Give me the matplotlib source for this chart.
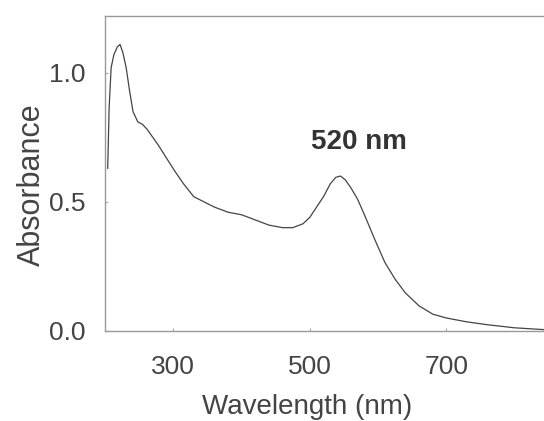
import numpy as np
import matplotlib
matplotlib.use('Agg')
import matplotlib.pyplot as plt

plt.rcParams['font.family'] = ['Liberation Sans', 'DejaVu Sans']

# spectrum
wl = [204, 206, 209, 213, 218, 222, 226, 231, 236, 241, 248, 255, 262, 270,
      278, 290, 302, 315, 330, 345, 360, 380, 400, 420, 440, 460, 475, 490,
      500, 510, 520, 530, 538, 545, 552, 560, 570, 580, 595, 610, 625, 640,
      660, 680, 700, 730, 760, 800, 843]
absorb = [0.63, 0.86, 1.02, 1.07, 1.10, 1.11, 1.08, 1.02, 0.93, 0.85, 0.81,
          0.80, 0.78, 0.75, 0.72, 0.67, 0.62, 0.57, 0.52, 0.50, 0.48, 0.46,
          0.45, 0.43, 0.41, 0.40, 0.40, 0.415, 0.44, 0.48, 0.52, 0.57,
          0.595, 0.60, 0.585, 0.555, 0.51, 0.45, 0.355, 0.265, 0.20, 0.147,
          0.097, 0.065, 0.05, 0.035, 0.024, 0.012, 0.005]
xticks = [300, 500, 700]
yticks = [0.0, 0.5, 1.0]
peak_label = '520 nm'

fig = plt.figure(figsize=(5.44, 4.21), dpi=100)
ax = fig.add_axes([0.193, 0.214, 0.807, 0.748])

ax.plot(wl, absorb, color='#444444', lw=0.9)
ax.text(502, 0.73, peak_label, fontsize=20, fontweight='bold',
        color='#333333', ha='left', va='center')

ax.set_xlim(200, 843)
ax.set_ylim(0, 1.22)
ax.set_xticks(xticks)
ax.set_yticks(yticks)
ax.set_yticklabels(['%.1f' % v for v in yticks])
ax.tick_params(direction='in', length=2, width=0.8, colors='#aaaaaa',
               labelcolor='#444444', labelsize=19, pad=14)
ax.tick_params(axis='x', pad=17)

for s in ['left', 'bottom', 'top']:
    ax.spines[s].set_color('#999999')
    ax.spines[s].set_linewidth(1.0)
ax.spines['right'].set_visible(False)

ax.set_xlabel('Wavelength (nm)', fontsize=20, color='#444444')
ax.set_ylabel('Absorbance', fontsize=22, color='#444444')
ax.xaxis.label.set_verticalalignment('baseline')
ax.xaxis.set_label_coords(0.46, -0.263)
ax.yaxis.set_label_coords(-0.133, 0.463)

fig.savefig('out.png', dpi=100)
